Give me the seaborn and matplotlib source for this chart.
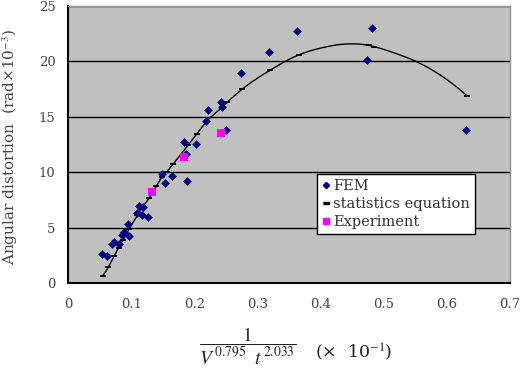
import numpy as np
import pandas as pd
import seaborn as sns
import matplotlib
matplotlib.use("Agg")
import matplotlib.pyplot as plt
from matplotlib.lines import Line2D

# ---- data ----
fem_x = [0.0534, 0.0613, 0.0697, 0.0724, 0.0803, 0.0851, 0.0892, 0.0962, 0.0946,
         0.1098, 0.1130, 0.1173, 0.1184, 0.1268, 0.1490, 0.1542, 0.1648, 0.1838,
         0.1862, 0.1886, 0.2021, 0.2182, 0.2223, 0.2429, 0.2441, 0.2504, 0.2737,
         0.3185, 0.3629, 0.4743, 0.4822, 0.6307]
fem_y = [2.62, 2.44, 3.55, 3.70, 3.52, 4.36, 4.63, 4.27, 5.37,
         6.29, 6.98, 6.16, 6.83, 5.96, 9.81, 9.03, 9.70, 12.73,
         11.64, 9.21, 12.55, 14.59, 15.57, 16.36, 15.86, 13.85, 18.98,
         20.89, 22.72, 20.13, 22.99, 13.81]

# statistics-equation markers
stat_x = [0.055, 0.064, 0.073, 0.080, 0.087, 0.097, 0.110, 0.117, 0.129, 0.140,
          0.149, 0.156, 0.166, 0.190, 0.204, 0.219, 0.244, 0.252, 0.276, 0.320,
          0.366, 0.476, 0.485, 0.632]
stat_y = [0.65, 1.45, 2.45, 3.20, 3.85, 4.90, 6.10, 6.75, 7.70, 8.75,
          9.60, 10.00, 10.70, 12.43, 13.45, 14.55, 15.85, 16.30, 17.50, 19.20,
          20.60, 21.45, 21.33, 16.90]

# extra points (between markers)
curve_extra_x = [0.400, 0.441, 0.520, 0.553, 0.590]
curve_extra_y = [21.20, 21.57, 20.70, 19.95, 18.75]

exp_x = [0.1323, 0.1838, 0.2429]
exp_y = [8.19, 11.33, 13.51]

x_ticks = [0, 0.1, 0.2, 0.3, 0.4, 0.5, 0.6, 0.7]
x_tick_labels = ["0", "0.1", "0.2", "0.3", "0.4", "0.5", "0.6", "0.7"]
y_ticks = [0, 5, 10, 15, 20, 25]
y_tick_labels = ["0", "5", "10", "15", "20", "25"]

legend_labels = ["FEM", "statistics equation", "Experiment"]

# ---- style ----
sns.set_theme(style="white")
plt.rcParams["font.family"] = ["DejaVu Serif", "Liberation Serif"]
plt.rcParams["mathtext.fontset"] = "stix"

W, H = 531, 375
fig = plt.figure(figsize=(W / 100, H / 100), dpi=100)
ax = fig.add_axes([68 / W, 1 - 283 / H, 442 / W, 277 / H])
ax.set_facecolor("#c0c0c0")

# smooth drawing of the curve: cubic Hermite with three-point tangents
def smooth(xs, ys, n=24):
    order = np.argsort(xs)
    x = np.asarray(xs, float)[order]
    y = np.asarray(ys, float)[order]
    h = np.diff(x)
    d = np.diff(y) / h
    m = np.zeros_like(x)
    for i in range(1, len(x) - 1):
        m[i] = (h[i] * d[i - 1] + h[i - 1] * d[i]) / (h[i - 1] + h[i])
    m[0] = ((2 * h[0] + h[1]) * d[0] - h[0] * d[1]) / (h[0] + h[1])
    m[-1] = ((2 * h[-1] + h[-2]) * d[-1] - h[-1] * d[-2]) / (h[-1] + h[-2])
    px, py = [], []
    t = np.linspace(0, 1, n)
    for i in range(len(x) - 1):
        h00 = 2 * t**3 - 3 * t**2 + 1
        h10 = t**3 - 2 * t**2 + t
        h01 = -2 * t**3 + 3 * t**2
        h11 = t**3 - t**2
        px.append(x[i] + t * h[i])
        py.append(h00 * y[i] + h10 * h[i] * m[i] + h01 * y[i + 1] + h11 * h[i] * m[i + 1])
    return np.concatenate(px), np.concatenate(py)

cx, cy = smooth(stat_x + curve_extra_x, stat_y + curve_extra_y)
curve = pd.DataFrame({"x": cx, "y": cy})
sns.lineplot(data=curve, x="x", y="y", sort=False, estimator=None,
             color="black", lw=1.0, ax=ax, zorder=3)

dash = [(-1, -0.45), (1, -0.45), (1, 0.45), (-1, 0.45)]
sns.scatterplot(x=stat_x, y=stat_y, marker=dash, s=22, color="black",
                edgecolor="black", linewidth=0, ax=ax, zorder=4)
sns.scatterplot(x=fem_x, y=fem_y, marker="D", s=17, color="#000080",
                edgecolor="#000080", linewidth=0.3, ax=ax, zorder=5)
sns.scatterplot(x=exp_x, y=exp_y, marker="s", s=26, color="#ff00ff",
                edgecolor="#ff00ff", linewidth=0, ax=ax, zorder=5)

ax.set_xlim(0, 0.7)
ax.set_ylim(0, 25)
ax.set_xticks(x_ticks)
ax.set_xticklabels(x_tick_labels)
ax.set_yticks(y_ticks)
ax.set_yticklabels(y_tick_labels)
ax.yaxis.grid(True, color="black", lw=1.0)
ax.xaxis.grid(False)
ax.set_axisbelow(True)

tc = "#444444"
ax.tick_params(axis="x", direction="in", length=4, width=1, color="black",
               labelsize=9.5, labelcolor=tc, pad=11)
ax.tick_params(axis="y", direction="in", length=0, labelsize=9.5,
               labelcolor=tc, pad=9)

for s in ["left", "bottom"]:
    ax.spines[s].set_color("black")
    ax.spines[s].set_linewidth(1.5)
for s in ["top", "right"]:
    ax.spines[s].set_color("#909090")
    ax.spines[s].set_linewidth(1.0)

ax.set_ylabel("Angular distortion  (rad\u00d710$^{-3}$)", fontsize=11,
              color=tc)
ax.yaxis.set_label_coords((20 - 68) / 442, 0.49)

ax.set_xlabel(r"$\dfrac{1}{V^{\,0.795}\;\;t^{\,2.033}}$", fontsize=14,
              color="#222222")
ax.xaxis.set_label_coords((248 - 68) / 442, (283 - 326) / 277)
ax.text((315 - 68) / 442, (283 - 352) / 277, "(\u00d7  10$^{-1}$)",
        transform=ax.transAxes, fontsize=12.5, color="#222222",
        ha="left", va="center")

handles = [
    Line2D([], [], ls="none", marker="D", ms=3.2, color="#000080"),
    Line2D([], [], ls="none", marker=dash, ms=4.5, color="black"),
    Line2D([], [], ls="none", marker="s", ms=4.5, color="#ff00ff"),
]
leg = ax.legend(handles, legend_labels, loc="upper left",
                bbox_to_anchor=((317 - 68) / 442, (283 - 174) / 277),
                borderaxespad=0, frameon=True, fancybox=False, framealpha=1,
                edgecolor="black", facecolor="white", fontsize=10.5,
                handlelength=0.5, handletextpad=0.25, labelspacing=0.27,
                borderpad=0.35)
leg.get_frame().set_linewidth(1.0)
for t in leg.get_texts():
    t.set_color("#333333")

fig.savefig("out.png", dpi=100)
